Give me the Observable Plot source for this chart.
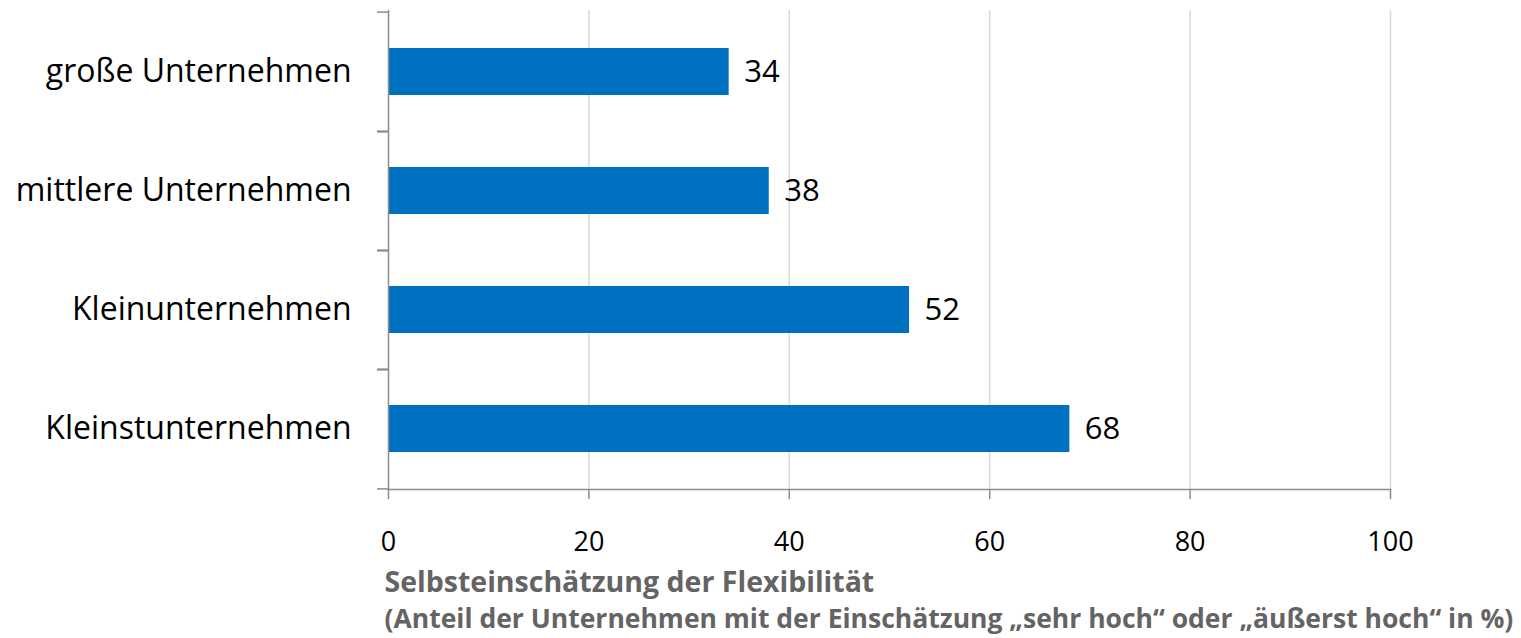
<!DOCTYPE html>
<html><head><meta charset="utf-8">
<script src="https://cdn.jsdelivr.net/npm/d3@7"></script>
<script src="https://cdn.jsdelivr.net/npm/@observablehq/plot@0.6"></script>
<style>body{margin:0;background:#fff}</style>
</head><body><div id="chart"></div>
<script>
const categories = ["große Unternehmen", "mittlere Unternehmen", "Kleinunternehmen", "Kleinstunternehmen"];
const values = [34, 38, 52, 68];
const xTicks = [0, 20, 40, 60, 80, 100];
const gridTicks = [20, 40, 60, 80, 100];
const titleLine1 = "Selbsteinschätzung der Flexibilität";
const titleLine2 = "(Anteil der Unternehmen mit der Einschätzung „sehr hoch“ oder „äußerst hoch“ in %)";

const data = categories.map((c, i) => ({category: c, value: values[i]}));

const W = 1521, H = 638, mT = 10, mB = 149, mL = 388, mR = 131;
const band = (H - mT - mB) / categories.length;
const font = "'Open Sans', sans-serif";
const axisGray = "#8c8c8c";

const chart = Plot.plot({
  width: W, height: H,
  marginTop: mT, marginBottom: mB, marginLeft: mL, marginRight: mR,
  style: {fontFamily: font, fontSize: "28px", color: "#000", background: "#fff"},
  x: {domain: [0, 100]},
  y: {domain: categories, paddingInner: 0, paddingOuter: 0},
  marks: [
    Plot.gridX({ticks: gridTicks, stroke: "#d9d9d9", strokeOpacity: 1, strokeWidth: 1.5}),
    Plot.barX(data, {x: "value", y: "category", fill: "#0070C0", insetTop: 36, insetBottom: 36}),
    Plot.ruleX([0], {stroke: axisGray, strokeWidth: 1.5}),
    Plot.frame({anchor: "bottom", stroke: axisGray, strokeWidth: 1.5}),
    Plot.axisX({ticks: xTicks, tickSize: 10, tickPadding: 32, stroke: axisGray, strokeWidth: 1.5, fill: "#000", fontSize: 27, label: null}),
    Plot.axisY({tickSize: 0, tickPadding: 37, fill: "#000", fontSize: 32, label: null}),
    Plot.axisY({tickSize: 11, tickFormat: () => "", stroke: axisGray, strokeWidth: 1.5, dy: -band / 2, label: null}),
    Plot.axisY({tickSize: 11, tickFormat: () => "", stroke: axisGray, strokeWidth: 1.5, dy: band / 2, label: null}),
    Plot.text(data, {x: "value", y: "category", text: d => String(d.value), textAnchor: "start", dx: 15, fontSize: 31, fill: "#000"}),
    Plot.text([titleLine1], {frameAnchor: "bottom-left", text: d => d, textAnchor: "start", lineAnchor: "bottom", dx: -4, dy: 102, fontWeight: "bold", fontSize: 28.5, fill: "#646464"}),
    Plot.text([titleLine2], {frameAnchor: "bottom-left", text: d => d, textAnchor: "start", lineAnchor: "bottom", dx: -4, dy: 138, fontWeight: "bold", fontSize: 26.5, fill: "#646464"})
  ]
});
document.getElementById("chart").appendChild(chart);
</script>
</body></html>
